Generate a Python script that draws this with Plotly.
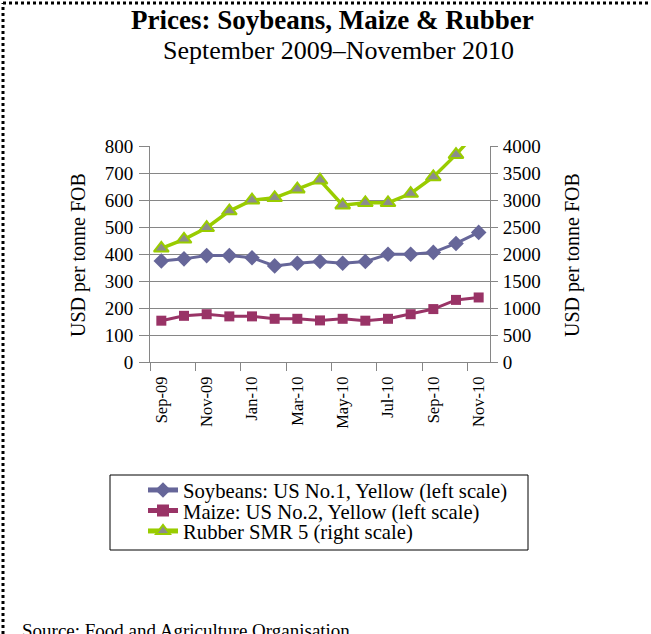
import plotly.graph_objects as go

months = ["Sep-09", "Oct-09", "Nov-09", "Dec-09", "Jan-10", "Feb-10", "Mar-10", "Apr-10",
          "May-10", "Jun-10", "Jul-10", "Aug-10", "Sep-10", "Oct-10", "Nov-10"]
soybeans = [374, 382, 394, 394, 386, 356, 366, 372, 366, 372, 399, 399, 406, 439, 480]
maize = [153, 171, 177, 169, 169, 160, 160, 154, 160, 153, 160, 177, 196, 230, 239]
rubber = [2105, 2271, 2486, 2794, 2997, 3040, 3200, 3366, 2905, 2948, 2948, 3120, 3428, 3840, 4300]

W, H = 651, 634
L, R, T, B = 150, 490, 146, 362


def px(x):
    return (x - L) / (R - L)


def py(y):
    return (B - y) / (B - T)


FONT = "Liberation Serif, Times New Roman, serif"
GRID = "#868686"

fig = go.Figure()
fig.add_trace(go.Scatter(
    x=months, y=soybeans, name="Soybeans: US No.1, Yellow (left scale)",
    mode="lines+markers", line=dict(color="#666699", width=3),
    marker=dict(symbol="diamond", size=12, color="#666699"), yaxis="y", legend="legend"))
fig.add_trace(go.Scatter(
    x=months, y=maize, name="Maize: US No.2, Yellow (left scale)",
    mode="lines+markers", line=dict(color="#993366", width=3),
    marker=dict(symbol="square", size=10, color="#993366"), yaxis="y", legend="legend2"))
fig.add_trace(go.Scatter(
    x=months, y=rubber, name="Rubber SMR 5 (right scale)",
    mode="lines+markers", line=dict(color="#99CC00", width=3.5),
    marker=dict(symbol="triangle-up", size=13, color="#8C8C8C",
                line=dict(color="#99CC00", width=2)), yaxis="y2", legend="legend3"))


def leg(ycen):
    return dict(
        x=px(143), y=py(ycen), xanchor="left", yanchor="middle",
        borderwidth=0, bgcolor="rgba(0,0,0,0)",
        font=dict(family=FONT, size=20.7, color="black"),
        tracegroupgap=0, itemsizing="constant",
    )


fig.update_layout(
    width=W, height=H,
    margin=dict(l=L, r=W - R, t=T, b=H - B, pad=0),
    paper_bgcolor="white", plot_bgcolor="white",
    font=dict(family=FONT, size=19, color="black"),
    showlegend=True,
    legend=leg(490), legend2=leg(510.5), legend3=leg(531),
    xaxis=dict(
        type="category", range=[-0.5, 14.5], dtick=2, tickson="boundaries",
        ticks="outside", ticklen=8, tickcolor=GRID, tickwidth=1,
        tickangle=-90, tickfont=dict(family=FONT, size=16.5), ticklabelstandoff=7,
        showline=True, linecolor=GRID, linewidth=1, showgrid=False,
        zeroline=False,
    ),
    yaxis=dict(
        range=[0, 800], dtick=100, ticks="outside", ticklen=10, tickcolor=GRID,
        showgrid=True, gridcolor=GRID, gridwidth=1, showline=True, linecolor=GRID,
        zeroline=False, tickfont=dict(family=FONT, size=19), ticklabelstandoff=2,
    ),
    yaxis2=dict(
        range=[0, 4000], dtick=500, overlaying="y", side="right", anchor="x",
        ticks="outside", ticklen=7, tickcolor=GRID, showgrid=False,
        showline=True, linecolor=GRID, zeroline=False,
        tickfont=dict(family=FONT, size=19), ticklabelstandoff=1,
    ),
    annotations=[
        dict(text="<b>Prices: Soybeans, Maize & Rubber</b>", x=px(332), y=py(20),
             xref="paper", yref="paper", showarrow=False,
             font=dict(family=FONT, size=27, color="black"), xanchor="center", yanchor="middle"),
        dict(text="September 2009\u2013November 2010", x=px(338), y=py(51),
             xref="paper", yref="paper", showarrow=False,
             font=dict(family=FONT, size=26, color="black"), xanchor="center", yanchor="middle"),
        dict(text="USD per tonne FOB", x=px(78), y=py(255), textangle=-90,
             xref="paper", yref="paper", showarrow=False,
             font=dict(family=FONT, size=20, color="black"), xanchor="center", yanchor="middle"),
        dict(text="USD per tonne FOB", x=px(572), y=py(255), textangle=-90,
             xref="paper", yref="paper", showarrow=False,
             font=dict(family=FONT, size=20, color="black"), xanchor="center", yanchor="middle"),
        dict(text="Source: Food and Agriculture Organisation", x=px(20), y=py(618),
             xref="paper", yref="paper", showarrow=False,
             font=dict(family=FONT, size=19, color="black"), xanchor="left", yanchor="top"),
    ],
    shapes=[
        dict(type="rect", xref="paper", yref="paper", x0=px(110), x1=px(528), y0=py(550), y1=py(475),
             line=dict(color="black", width=1), fillcolor="rgba(0,0,0,0)"),
        dict(type="line", xref="paper", yref="paper", x0=px(3), x1=px(3), y0=py(640), y1=py(3),
             line=dict(color="black", width=3, dash="dot")),
        dict(type="line", xref="paper", yref="paper", x0=px(3), x1=px(655), y0=py(3), y1=py(3),
             line=dict(color="black", width=3, dash="dot")),
    ],
)

fig.write_html("out.html", config={"displayModeBar": False},
               post_script="document.body.style.margin='0';document.body.style.overflow='hidden';")
